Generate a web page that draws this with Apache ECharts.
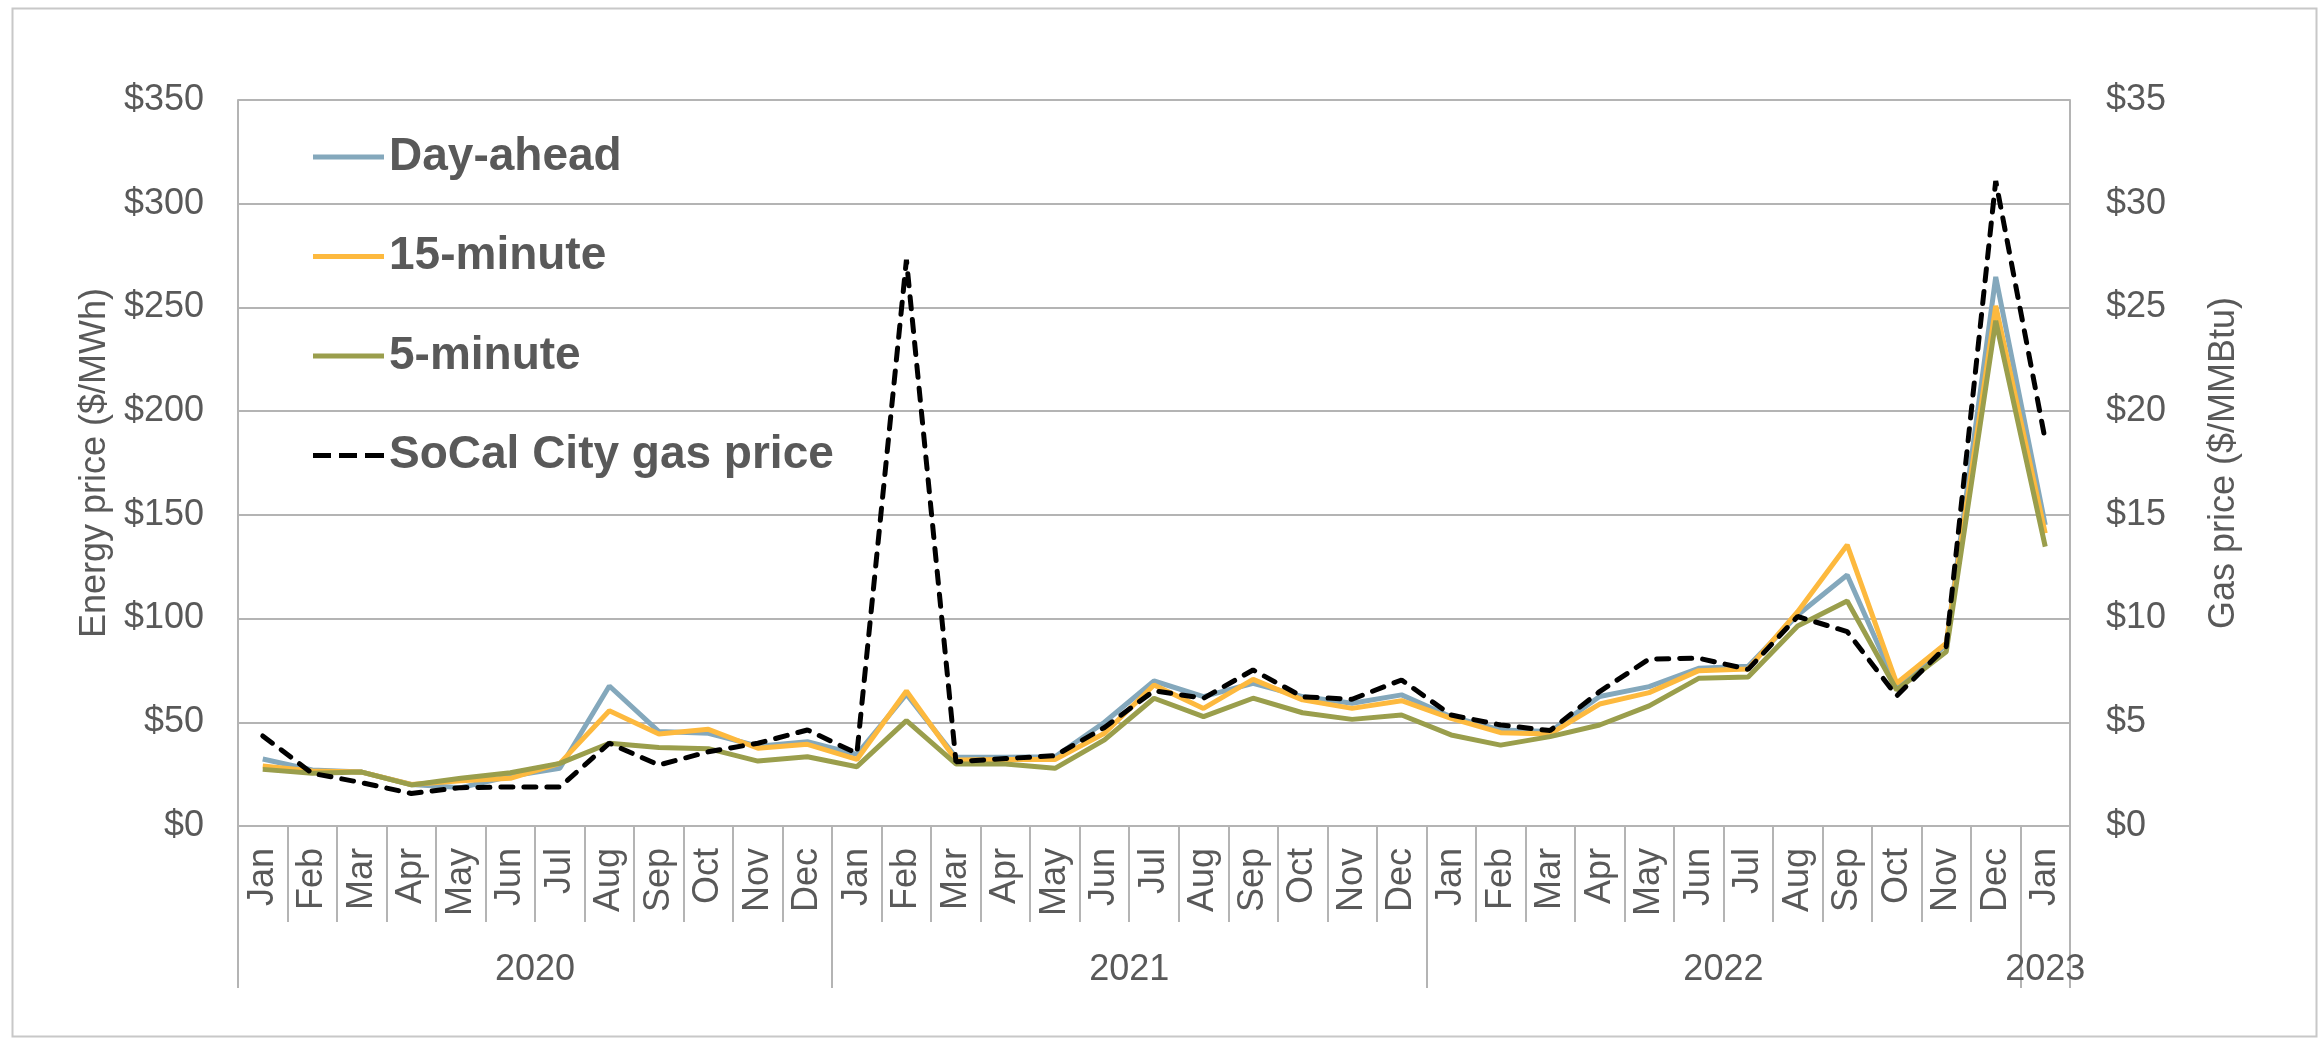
<!DOCTYPE html>
<html>
<head>
<meta charset="utf-8">
<script src="https://cdn.jsdelivr.net/npm/echarts@6/dist/echarts.min.js"></script>
<style>
html,body{margin:0;padding:0;background:#fff;}
#chart{width:2321px;height:1041px;}
</style>
</head>
<body>
<div id="chart"></div>
<script>
const months = ['Jan','Feb','Mar','Apr','May','Jun','Jul','Aug','Sep','Oct','Nov','Dec',
  'Jan','Feb','Mar','Apr','May','Jun','Jul','Aug','Sep','Oct','Nov','Dec',
  'Jan','Feb','Mar','Apr','May','Jun','Jul','Aug','Sep','Oct','Nov','Dec','Jan'];
const years = ['2020','2021','2022','2023'];
const yearBoundaries = [0, 12, 24, 36, 37];
const yearCenters = [6, 18, 30, 36.5];
const energyTicks = [0, 50, 100, 150, 200, 250, 300, 350];
const gasTicks = [0, 5, 10, 15, 20, 25, 30, 35];

const dayAhead = [32.3, 27, 26, 20, 18.5, 24, 27.8, 67.5, 45.5, 44.7, 38.5, 40.6,
  34.5, 63.5, 33.1, 33.1, 33.4, 50, 69.9, 62.4, 68.8, 62.4, 59.2, 63.2,
  52.7, 46.3, 45.5, 62.4, 67.2, 76, 77, 101.7, 121, 67.2, 87.3, 264.7, 145.1];
const fifteenMin = [28.9, 26.5, 26, 20, 21.8, 23, 30.2, 55.6, 44.4, 46.6, 37.5, 39.4,
  32.1, 65.1, 31.8, 32.1, 32.1, 44.7, 68, 56.7, 70.7, 60.8, 56.7, 60.4,
  51.9, 45, 44.4, 58.8, 64.3, 74.9, 75.7, 103.3, 135.5, 68.8, 88.1, 250.8, 141.1];
const fiveMin = [27.3, 25.4, 26, 19.8, 23, 25.7, 30.2, 39.9, 37.8, 37.3, 31.3, 33.4,
  28.6, 50.8, 29.9, 29.9, 27.8, 41.5, 61.6, 52.7, 61.6, 54.6, 51.4, 53.5,
  43.9, 39, 43.1, 48.7, 57.9, 71.2, 71.8, 96.4, 108.5, 65.6, 84, 243.6, 134.7];
const gasPrice = [4.34, 2.54, 2.09, 1.57, 1.85, 1.88, 1.88, 3.99, 2.94, 3.58, 3.99, 4.63,
  3.5, 27.3, 3.1, 3.25, 3.39, 4.75, 6.52, 6.16, 7.52, 6.23, 6.11, 7.04,
  5.35, 4.87, 4.6, 6.48, 8.05, 8.09, 7.55, 10.1, 9.37, 6.27, 8.65, 31.1, 18.6];

const FONT = "'Liberation Sans', Arial, sans-serif";
const TXT = '#595959';
const GRID = '#B4B4B4';
const SOLID_ICON = 'path://M0,0H71V5H0Z';
const DASH_ICON = 'path://M0,0H18V5H0Z M26,0H44V5H26Z M52,0H71V5H52Z';

const chart = echarts.init(document.getElementById('chart'), null, {renderer: 'canvas'});
chart.setOption({
  animation: false,
  backgroundColor: '#ffffff',
  textStyle: {fontFamily: FONT},
  graphic: [{
    type: 'rect', left: 10, top: 6, silent: true,
    shape: {width: 2304, height: 1028},
    style: {fill: 'none', stroke: '#C8C8C8', lineWidth: 2}
  }],
  grid: {left: 238, right: 251, top: 100, bottom: 215, containLabel: false},
  legend: {
    orient: 'vertical', left: 308, top: 127,
    itemWidth: 71, itemHeight: 5, itemGap: 49.5,
    itemStyle: {borderWidth: 0},
    textStyle: {fontSize: 46, fontWeight: 'bold', color: TXT, fontFamily: FONT, lineHeight: 50},
    data: [
      {name: 'Day-ahead', icon: SOLID_ICON},
      {name: '15-minute', icon: SOLID_ICON},
      {name: '5-minute', icon: SOLID_ICON},
      {name: 'SoCal City gas price', icon: DASH_ICON}
    ]
  },
  xAxis: [{
    type: 'category', data: months, boundaryGap: true, position: 'bottom',
    axisLine: {show: true, lineStyle: {color: GRID, width: 2}},
    axisTick: {show: true, length: 96, interval: 0, lineStyle: {color: GRID, width: 2}},
    axisLabel: {rotate: 90, interval: 0, fontSize: 36, color: TXT, margin: 22, fontFamily: FONT},
    splitLine: {show: false}
  }, {
    type: 'value', min: 0, max: 37, position: 'bottom', gridIndex: 0,
    axisLine: {show: false},
    splitLine: {show: false},
    axisTick: {show: true, customValues: yearBoundaries, length: 162, lineStyle: {color: GRID, width: 2}},
    axisLabel: {show: true, customValues: yearCenters, fontSize: 36, color: TXT, margin: 126, fontFamily: FONT,
      formatter: v => years[Math.min(3, Math.floor(v / 12))]}
  }],
  yAxis: [{
    type: 'value', min: 0, max: 350, interval: 50, position: 'left',
    name: 'Energy price ($/MWh)', nameLocation: 'middle', nameGap: 124, nameRotate: 90,
    nameTextStyle: {fontSize: 36, color: TXT, fontFamily: FONT},
    axisLine: {show: true, lineStyle: {color: GRID, width: 2}},
    axisTick: {show: false},
    axisLabel: {fontSize: 36, color: TXT, margin: 34, fontFamily: FONT,
      customValues: energyTicks, formatter: v => '$' + v},
    splitLine: {show: true, lineStyle: {color: GRID, width: 2}}
  }, {
    type: 'value', min: 0, max: 35, interval: 5, position: 'right',
    name: 'Gas price ($/MMBtu)', nameLocation: 'middle', nameGap: 136, nameRotate: 90,
    nameTextStyle: {fontSize: 36, color: TXT, fontFamily: FONT},
    axisLine: {show: true, lineStyle: {color: GRID, width: 2}},
    axisTick: {show: false},
    axisLabel: {fontSize: 36, color: TXT, margin: 36, fontFamily: FONT,
      customValues: gasTicks, formatter: v => '$' + v},
    splitLine: {show: false}
  }],
  series: [{
    name: 'Day-ahead', type: 'line', data: dayAhead, xAxisIndex: 0, yAxisIndex: 0,
    symbol: 'none', lineStyle: {color: '#84A8BC', width: 5}, itemStyle: {color: '#84A8BC'}
  }, {
    name: '15-minute', type: 'line', data: fifteenMin, xAxisIndex: 0, yAxisIndex: 0,
    symbol: 'none', lineStyle: {color: '#FDB93E', width: 5}, itemStyle: {color: '#FDB93E'}
  }, {
    name: '5-minute', type: 'line', data: fiveMin, xAxisIndex: 0, yAxisIndex: 0,
    symbol: 'none', lineStyle: {color: '#9A9E4C', width: 5}, itemStyle: {color: '#9A9E4C'}
  }, {
    name: 'SoCal City gas price', type: 'line', data: gasPrice, xAxisIndex: 0, yAxisIndex: 1,
    symbol: 'none', lineStyle: {color: '#000000', width: 5, type: [12, 11], cap: 'round'},
    itemStyle: {color: '#000000'}
  }]
});
</script>
</body>
</html>
